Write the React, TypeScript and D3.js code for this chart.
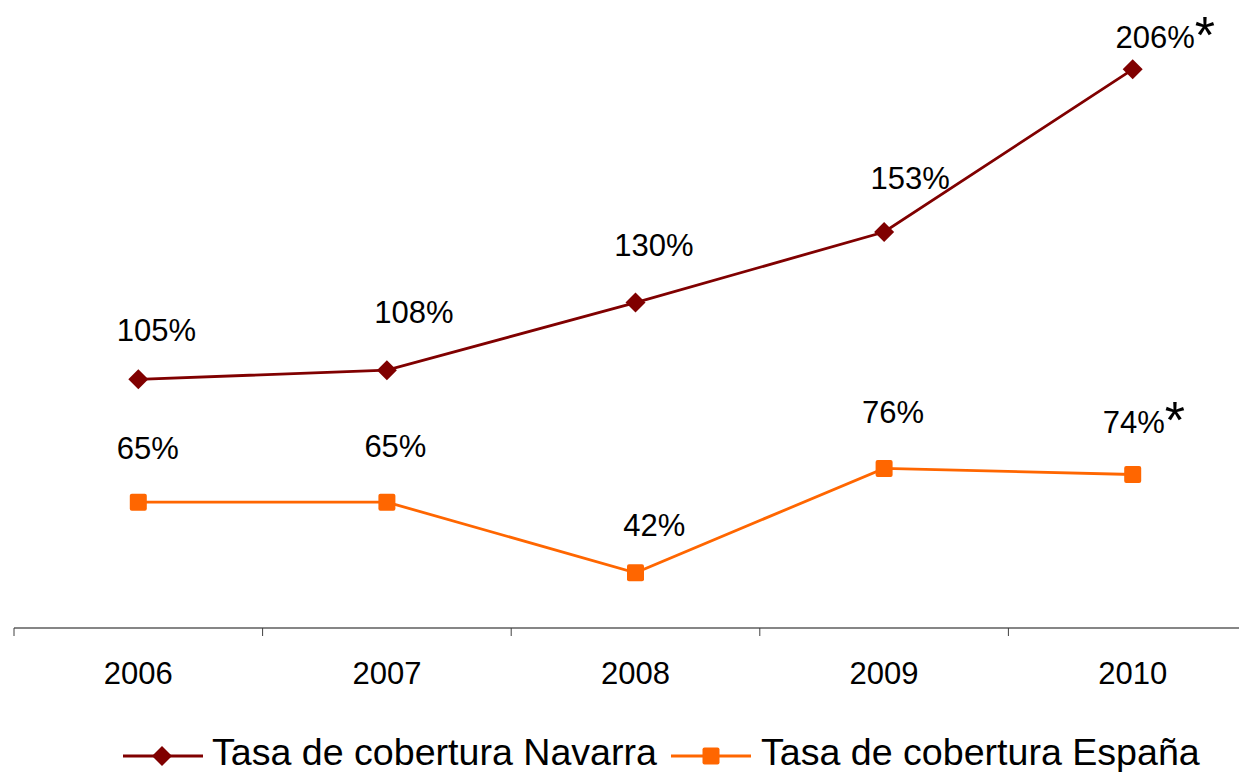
import React from "react";
import * as d3 from "d3";

const years = ["2006", "2007", "2008", "2009", "2010"];
const navarra = [105, 108, 130, 153, 206];
const espana = [65, 65, 42, 76, 74];
const navarraLabels = ["105%", "108%", "130%", "153%", "206%"];
const espanaLabels = ["65%", "65%", "42%", "76%", "74%"];
const navarraNotes = ["", "", "", "", "*"];
const espanaNotes = ["", "", "", "", "*"];
const seriesNames = ["Tasa de cobertura Navarra", "Tasa de cobertura España"];

// label placement nudges (layout only, relative to each point)
const navarraNudge = [[18, -38], [27, -47], [18.5, -47], [26, -43], [22.5, -21]];
const espanaNudge = [[9.5, -43], [8.5, -45], [18.7, -37], [9, -45], [1, -42]];

const W = 1239;
const H = 772;
const FONT = "'Liberation Sans', Arial, sans-serif";
const RED = "#800000";
const ORANGE = "#FF6600";
const LABEL_SIZE = 31;
const LEGEND_SIZE = 37.6;

let ctx: CanvasRenderingContext2D | null = null;
function textWidth(t: string, size: number) {
  if (!ctx) ctx = document.createElement("canvas").getContext("2d");
  if (!ctx) return t.length * size * 0.55;
  ctx.font = `${size}px 'Liberation Sans', Arial, sans-serif`;
  return ctx.measureText(t).width;
}

function Diamond({ x, y, r }: { x: number; y: number; r: number }) {
  return <path d={`M${x},${y - r}L${x + r},${y}L${x},${y + r}L${x - r},${y}Z`} fill={RED} />;
}
function Square({ x, y, s }: { x: number; y: number; s: number }) {
  return <rect x={x - s / 2} y={y - s / 2} width={s} height={s} rx={2} fill={ORANGE} />;
}

export default function App() {
  const x = d3.scaleBand().domain(years).range([14, 1257]).paddingInner(0).paddingOuter(0);
  const y = d3.scaleLinear().domain([24, 225]).range([628, 11]);
  const cx = (d: string) => (x(d) as number) + x.bandwidth() / 2;
  const line = d3
    .line<number>()
    .x((_, i) => cx(years[i]))
    .y((v) => y(v));

  const renderLabels = (vals: number[], labels: string[], notes: string[], nudge: number[][]) =>
    vals.map((v, i) => {
      const px = cx(years[i]) + nudge[i][0];
      const py = y(v) + nudge[i][1];
      const w = textWidth(labels[i], LABEL_SIZE);
      return (
        <text key={i} x={px - w / 2} y={py} fontSize={LABEL_SIZE} fontFamily={FONT} fill="#000">
          {labels[i]}
          {notes[i] ? (
            <tspan fontSize={52} dy={5} dx={0}>
              {notes[i]}
            </tspan>
          ) : null}
        </text>
      );
    });

  const boundaries = years
    .map((d) => x(d) as number)
    .concat([(x(years[years.length - 1]) as number) + x.bandwidth()]);

  return (
    <div style={{ position: "fixed", left: 0, top: 0, width: W, height: H, background: "#fff" }}>
      <svg width={W} height={H} viewBox={`0 0 ${W} ${H}`} style={{ display: "block" }}>
        <rect width={W} height={H} fill="#fff" />
        {/* axis */}
        <line x1={14} x2={W + 20} y1={628} y2={628} stroke="#868686" strokeWidth={2} />
        {boundaries.map((b, i) => (
          <line key={i} x1={b} x2={b} y1={628} y2={636} stroke="#404040" strokeWidth={1} />
        ))}
        {years.map((d) => (
          <text key={d} x={cx(d)} y={684} textAnchor="middle" fontSize={31} fontFamily={FONT} fill="#000">
            {d}
          </text>
        ))}
        {/* lines */}
        <path d={line(navarra) || ""} fill="none" stroke={RED} strokeWidth={2.8} />
        <path d={line(espana) || ""} fill="none" stroke={ORANGE} strokeWidth={2.8} />
        {navarra.map((v, i) => (
          <Diamond key={i} x={cx(years[i])} y={y(v)} r={10} />
        ))}
        {espana.map((v, i) => (
          <Square key={i} x={cx(years[i])} y={y(v)} s={17} />
        ))}
        {renderLabels(navarra, navarraLabels, navarraNotes, navarraNudge)}
        {renderLabels(espana, espanaLabels, espanaNotes, espanaNudge)}
        {/* legend */}
        <line x1={123} x2={203} y1={756} y2={756} stroke={RED} strokeWidth={3} />
        <Diamond x={162} y={756} r={10} />
        <text x={212} y={765} fontSize={LEGEND_SIZE} fontFamily={FONT} fill="#000">
          {seriesNames[0]}
        </text>
        <line x1={671} x2={751} y1={756} y2={756} stroke={ORANGE} strokeWidth={3} />
        <Square x={711} y={756} s={17} />
        <text x={761} y={765} fontSize={LEGEND_SIZE} fontFamily={FONT} fill="#000">
          {seriesNames[1]}
        </text>
      </svg>
    </div>
  );
}
